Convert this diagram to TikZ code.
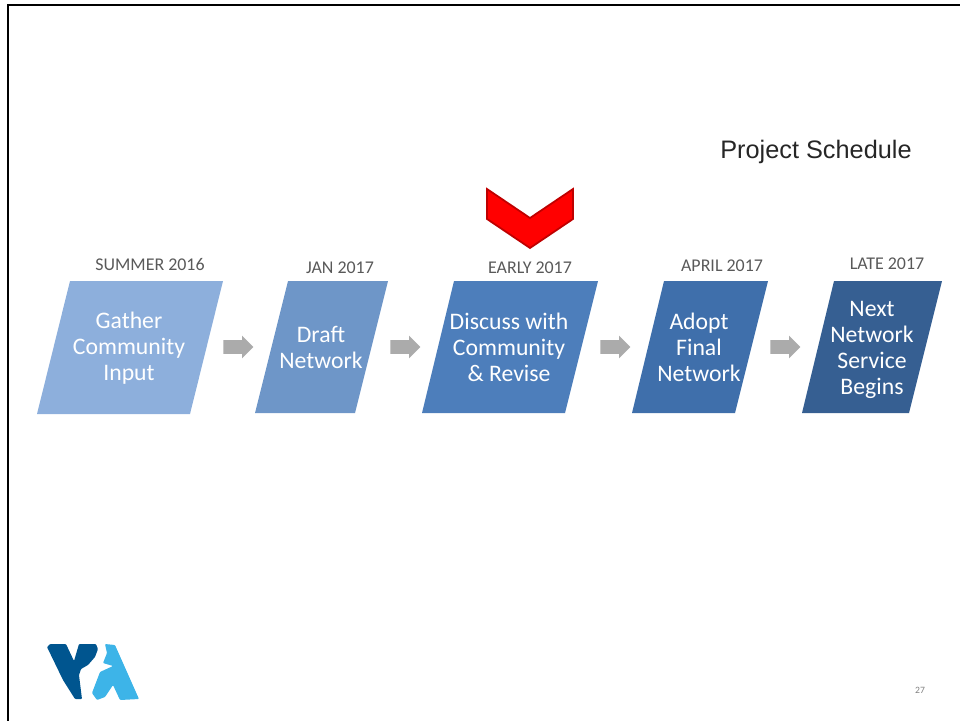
\documentclass[tikz,border=0pt]{standalone}
\usepackage{fontspec}
\setmainfont{Carlito}
\newfontfamily\titlefont{Liberation Sans}
\usetikzlibrary{shapes.arrows}
\definecolor{gatherblue}{HTML}{8DAFDC}
\definecolor{draftblue}{HTML}{6E96C8}
\definecolor{discussblue}{HTML}{4D7EBB}
\definecolor{adoptblue}{HTML}{3F6FAB}
\definecolor{nextblue}{HTML}{365F92}
\definecolor{vtadark}{HTML}{00558F}
\definecolor{vtalight}{HTML}{3DB4E8}
\tikzset{
    steptext/.style = {text = white, align = center, inner sep = 0pt, font = \fontsize{13.5}{14.8}\selectfont},
    datetext/.style = {text = black!65, inner sep = 0pt, font = \fontsize{10.2}{12}\selectfont},
    nextarrow/.style = {single arrow, fill = black!33, inner xsep = 0pt, inner ysep = 0.13cm, minimum height = 0.6cm, minimum width = 0.44cm, single arrow head extend = 0.09cm}
}
\begin{document}
\begin{tikzpicture}[x = 0.02cm, y = -0.02cm]
        \useasboundingbox (0,0) rectangle (960,721);
        \draw[line width = 1.4pt] (960,5) -- (8,5) -- (8,721);

        \node[text = black!85, font = \titlefont\fontsize{14.4}{16}\selectfont, inner sep = 0pt] (title) at (816,152) {Project Schedule};

        \fill[gatherblue] (70,281) -- (223,281) -- (190,414) -- (37,414) -- cycle;
        \fill[draftblue] (288,281) -- (388,281) -- (355,413) -- (255,413) -- cycle;
        \fill[discussblue] (454,281) -- (598,281) -- (565,413) -- (422,413) -- cycle;
        \fill[adoptblue] (664,281) -- (768,281) -- (735,413) -- (632,413) -- cycle;
        \fill[nextblue] (834,281) -- (942,281) -- (909,413) -- (802,413) -- cycle;

        \node[steptext] (gather) at (129,348) {Gather\\Community\\Input};
        \node[steptext] (draft) at (321,347) {Draft\\Network};
        \node[steptext] (discuss) at (509,347) {Discuss with\\Community\\\& Revise};
        \node[steptext] (adopt) at (699,347) {Adopt\\Final\\Network};
        \node[steptext] (next) at (872,350) {Next\\Network\\Service\\Begins};

        \node[datetext] (summer) at (150,265) {SUMMER 2016};
        \node[datetext] (jan) at (340,268) {JAN 2017};
        \node[datetext] (early) at (530,268) {EARLY 2017};
        \node[datetext] (april) at (722,266) {APRIL 2017};
        \node[datetext] (late) at (887,264) {LATE 2017};

        \node[nextarrow] (arrow1) at (235,347) {};
        \node[nextarrow] (arrow2) at (402,347) {};
        \node[nextarrow] (arrow3) at (612,347) {};
        \node[nextarrow] (arrow4) at (782,347) {};

        \draw[fill = red, draw = red!75!black, line width = 1pt] (487,189) -- (530,218) -- (573,189) -- (573,219) -- (530,248) -- (487,219) -- cycle;

        % logo
        \fill[vtadark, rounded corners = 0.5pt] (47,647) -- (50,644) -- (66,644) -- (74,661) -- (79,644) -- (96,644) -- (98,649) -- (95,657) -- (88,665) -- (81,669) -- (79,675) -- (82,699) -- (75,699) -- (63,680) -- cycle;
        \fill[vtalight, rounded corners = 0.5pt] (105,644) -- (115,645) -- (139,699) -- (120,700) -- (113,685) -- (105,697) -- (97,700) -- (92,693) -- (100,672) -- (113,666) -- (103,663) -- (107,653) -- cycle;

        \node[text = black!50, inner sep = 0pt, font = \fontsize{5.5}{7}\selectfont] (page) at (920,690) {27};
    \end{tikzpicture}
\end{document}
